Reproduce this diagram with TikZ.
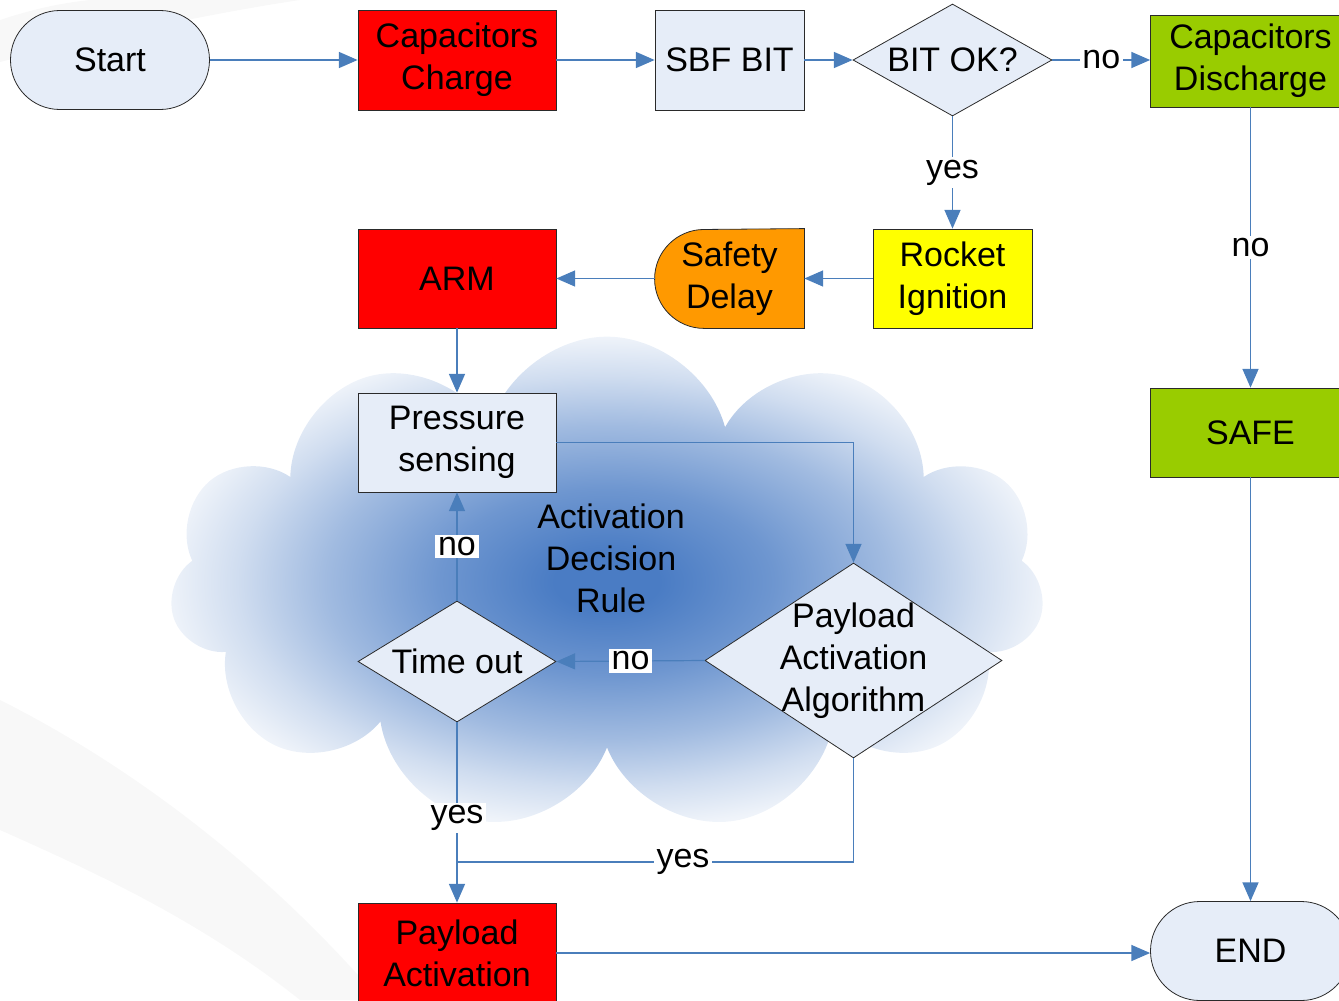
\documentclass[tikz,border=0pt]{standalone}
\usepackage{fontspec}
\setmainfont{Liberation Sans}
\usetikzlibrary{shapes.geometric,shapes.symbols,arrows.meta,backgrounds}
\definecolor{cblue}{HTML}{4A7CC4}
\definecolor{lineblue}{HTML}{4A7EBB}
\definecolor{boxfill}{HTML}{E6EDF8}
\definecolor{ored}{HTML}{FF0000}
\definecolor{ogreen}{HTML}{99CC00}
\definecolor{oyellow}{HTML}{FFFF00}
\definecolor{oorange}{HTML}{FF9900}
\definecolor{bordercol}{HTML}{2A2A2A}
\definecolor{bgswoosh}{HTML}{F8F8F8}
\pgfdeclareradialshading{cloudshade}{\pgfpoint{0bp}{0bp}}{color(0bp)=(cblue); color(3bp)=(cblue); color(9.5bp)=(cblue!80!white); color(16bp)=(cblue!52!white); color(21bp)=(cblue!26!white); color(25bp)=(cblue!9!white); color(28.5bp)=(white); color(72bp)=(white)}
\newcommand{\bigfont}{\fontsize{25.5}{31.5}\selectfont}
\tikzset{
  base/.style={draw=bordercol, line width=0.6pt, inner sep=0pt, align=center, font=\bigfont},
  proc/.style={base, rectangle},
  decis/.style={base, diamond, fill=boxfill},
  conn/.style={draw=lineblue, line width=0.9pt, -{Triangle[length=14pt,width=12pt]}},
  plainline/.style={draw=lineblue, line width=0.9pt},
  lbl/.style={fill=white, inner sep=2pt, font=\bigfont, text=black}
}
\begin{document}
\begin{tikzpicture}[x=0.75pt,y=-0.75pt]
\useasboundingbox (0,0) rectangle (1339,1000);
\clip (0,0) rectangle (1339,1000);
% faint background swooshes
\fill[bgswoosh] (0,20) .. controls (30,10) and (60,3) .. (90,0) -- (300,0) .. controls (200,15) and (90,40) .. (0,62) -- cycle;
\fill[bgswoosh] (0,700) .. controls (120,760) and (260,860) .. (380,1000) -- (300,1000) .. controls (200,920) and (90,870) .. (0,830) -- cycle;
% cloud
\node[cloud, cloud puffs=11, cloud ignores aspect, minimum width=656pt, minimum height=371pt, inner sep=0pt, shade, shading=cloudshade] (cloud) at (607,584) {};
% nodes
\node[proc, fill=boxfill, rounded corners=37pt, minimum width=149.25pt, minimum height=74.25pt] (start) at (110,60) {Start};
\node[proc, fill=ored, minimum width=148.5pt, minimum height=75pt] (capc) at (457,60) {Capacitors\\Charge};
\node[proc, fill=boxfill, minimum width=111.75pt, minimum height=75pt] (sbf) at (729.5,60) {SBF BIT};
\node[decis, minimum width=149.25pt, minimum height=84pt, label={[font=\bigfont]center:BIT OK?}] (bitok) at (952.5,60) {};
\node[proc, fill=ogreen, minimum width=150pt, minimum height=69pt] (capd) at (1250.5,61) {Capacitors\\Discharge};
\node[proc, fill=oyellow, minimum width=119.25pt, minimum height=74.25pt] (rocket) at (952.5,278.5) {Rocket\\Ignition};
\node[base, draw=none, minimum width=111.75pt, minimum height=74.25pt] (safety) at (729.5,278.5) {Safety\\Delay};
\begin{scope}[on background layer]
\draw[draw=bordercol, line width=0.6pt, fill=oorange] (safety.north east) -- (safety.south east) -- ([xshift=37.1pt]safety.south west) arc[start angle=-90, end angle=-270, radius=37.1pt] -- cycle;
\end{scope}
\node[proc, fill=ored, minimum width=148.5pt, minimum height=74.25pt] (arm) at (457,278.5) {ARM};
\node[proc, fill=boxfill, minimum width=148.5pt, minimum height=74.25pt] (press) at (457,442.5) {Pressure\\sensing};
\node[decis, minimum width=148.5pt, minimum height=90.75pt, label={[font=\bigfont]center:Time out}] (timeout) at (457,661.5) {};
\node[decis, minimum width=222.75pt, minimum height=146.25pt, label={[font=\bigfont, align=center]center:{Payload\\Activation\\Algorithm}}] (alg) at (853.5,660.5) {};
\node[proc, fill=ored, minimum width=148.5pt, minimum height=75pt] (pa) at (457,953) {Payload\\Activation};
\node[proc, fill=ogreen, minimum width=150pt, minimum height=66.75pt] (safe) at (1250.5,432.5) {SAFE};
\node[proc, fill=boxfill, rounded corners=37pt, minimum width=150pt, minimum height=74.25pt] (endn) at (1250.5,951) {END};
\node[font=\bigfont, align=center, inner sep=0pt] (rule) at (611,558) {Activation\\Decision\\Rule};
\coordinate (join) at (457,862);
% connectors
\draw[conn] (start.east) -- (capc.west);
\draw[conn] (capc.east) -- (sbf.west);
\draw[conn] (sbf.east) -- (bitok.west);
\draw[conn] (bitok.east) -- node[lbl]{no} (bitok.east -| capd.west);
\draw[conn] (bitok.south) -- node[lbl]{yes} (rocket.north);
\draw[conn] (rocket.west) -- (safety.east);
\draw[conn] (safety.west) -- (arm.east);
\draw[conn] (arm.south) -- (press.north);
\draw[conn] (press.east) -| (alg.north);
\draw[conn] (alg.west) -- node[lbl]{no} (timeout.east);
\draw[conn] (timeout.north) -- node[lbl]{no} (press.south);
\draw[conn] (timeout.south) -- node[lbl, pos=0.53]{yes} (pa.north);
\draw[plainline] (alg.south) |- node[lbl, pos=0.715]{yes} (join);
\draw[conn] (pa.east) -- (pa.east -| endn.west);
\draw[conn] (capd.south) -- node[lbl]{no} (safe.north);
\draw[conn] (safe.south) -- (endn.north);
\end{tikzpicture}
\end{document}
